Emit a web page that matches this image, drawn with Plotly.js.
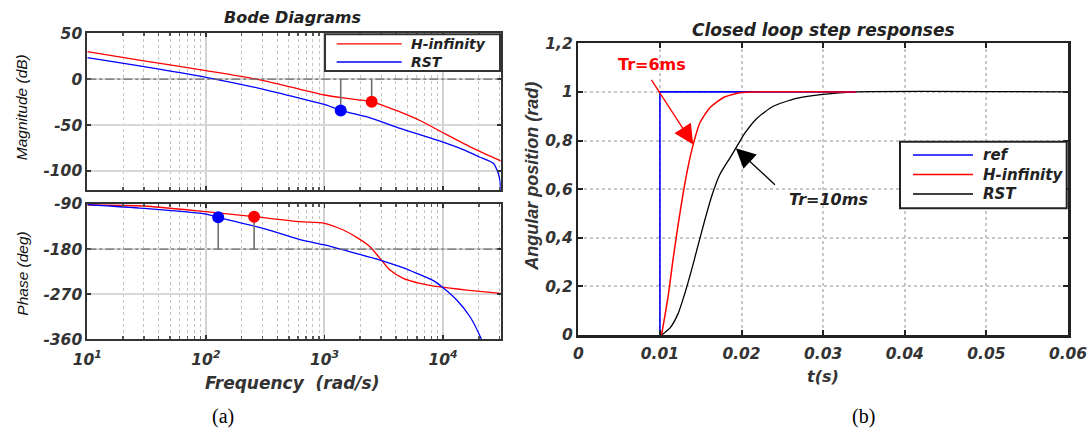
<!DOCTYPE html>
<html><head><meta charset="utf-8">
<script src="https://cdn.plot.ly/plotly-3.0.1.min.js"></script>
<style>html,body{margin:0;padding:0;background:#fff}</style>
</head><body><div id="chart" style="width:1091px;height:433px"></div>
<script>
// ---------- Bode magnitude (dB) ----------
const magFreqHinf = [10, 30, 100, 268, 621, 1000, 1442, 1928, 2500, 3566, 4335, 6383, 10000, 17990, 30700];
const magDbHinf   = [30, 20, 9.3, 0, -11, -17.2, -20.4, -22.5, -24.5, -31.5, -35.6, -45, -58.3, -75.3, -89];
const magFreqRst  = [10, 24.4, 100, 326, 621, 1000, 1371, 2500, 4335, 10000, 15000, 20460, 26500, 29200, 30300, 30700];
const magDbRst    = [23.4, 15.5, 2.1, -11.8, -20.8, -27.5, -34.0, -42.6, -53.5, -68.5, -77, -85, -91.6, -102.5, -112, -125];
// ---------- Bode phase (deg) ----------
const phFreqHinf = [10, 30, 100, 255, 621, 1000, 1442, 1928, 2421, 2938, 3566, 4617, 6383, 9410, 15800, 30700];
const phDegHinf  = [-92, -94, -105.4, -115.3, -125.3, -128.5, -141.9, -158.5, -175.2, -198.4, -221.7, -238.3, -248.3, -255.5, -261.7, -268.2];
const phFreqRst  = [10, 29.6, 100, 127, 326, 621, 1000, 1637, 2938, 4335, 5988, 8280, 10000, 13030, 16870, 21150, 23000];
const phDegRst   = [-91, -98.6, -110, -116.5, -140.5, -161, -171.8, -185.2, -201.8, -215.1, -228.3, -243, -257, -281.6, -315, -361, -385];
// ---------- stability margin markers (H-infinity, RST) ----------
const marginSeries    = ['H-infinity', 'RST'];
const gainMarginFreq  = [2500, 1371];
const gainMarginDb    = [-24.5, -34.0];
const phaseMarginFreq = [255, 127];
const phaseMarginDeg  = [-115.3, -116.5];
const magRefDb = 0, phaseRefDeg = -180;
// ---------- step responses (zero segment before t=0.01 lies on the axis) ----------
const refT  = [0.0100, 0.0100, 0.034];
const refY  = [0, 1, 1];
const hinfT = [0.0102, 0.0110, 0.0116, 0.0122, 0.01285, 0.01346, 0.01408, 0.0149, 0.01612, 0.01775, 0.0198, 0.0215, 0.034];
const hinfY = [0, 0.158, 0.309, 0.447, 0.584, 0.694, 0.784, 0.873, 0.935, 0.976, 0.997, 1, 1];
const rstT  = [0.0102, 0.01122, 0.01224, 0.01306, 0.01388, 0.01469, 0.01551, 0.01633, 0.01734, 0.01857, 0.0195, 0.0204, 0.02184, 0.02387, 0.02673, 0.030, 0.034, 0.06];
const rstY  = [0, 0.028, 0.089, 0.172, 0.268, 0.371, 0.474, 0.570, 0.660, 0.728, 0.780, 0.830, 0.890, 0.941, 0.973, 0.990, 1, 1];
// ---------- legends ----------
const bodeLegendNames = ['H-infinity', 'RST'];
const stepLegendNames = ['ref', 'H-infinity', 'RST'];
// ---------- tick labels ----------
const freqTickVals = [10, 100, 1000, 10000];
const freqTickText = ['10<sup>1</sup>', '10<sup>2</sup>', '10<sup>3</sup>', '10<sup>4</sup>'];
const magTickVals = [-100, -50, 0, 50];
const magTickText = ['-100', '-50', '0', '50'];
const phTickVals = [-360, -270, -180, -90];
const phTickText = ['-360', '-270', '-180', '-90'];
const tTickVals = [0, 0.01, 0.02, 0.03, 0.04, 0.05, 0.06];
const tTickText = ['0', '0.01', '0.02', '0.03', '0.04', '0.05', '0.06'];
const posTickVals = [0, 0.2, 0.4, 0.6, 0.8, 1, 1.2];
const posTickText = ['0', '0,2', '0,4', '0,6', '0,8', '1', '1,2'];
// annotation anchor points (data units)
const tr6Text = {t: 0.00898, y: 1.113}, tr6Tail = {t: 0.00853, y: 1.072}, tr6Tip = {t: 0.01408, y: 0.784};
const tr10Text = {t: 0.03069, y: 0.557}, tr10Tail = {t: 0.02452, y: 0.605}, tr10Tip = {t: 0.0193, y: 0.768};

const W = 1091, H = 433;
const px = x => x / W, py = y => 1 - y / H;
const RED = '#ff0000', BLUE = '#0000ff', BLACK = '#000000', STEM = '#707070';
const FAM = 'DejaVu Sans';
const tickFont = {family: FAM, size: 15.5, color: '#333', weight: 'bold', style: 'italic'};
const legFont = {family: FAM, size: 15, color: '#222', weight: 'bold', style: 'italic'};
const sp = {shape: 'spline', smoothing: 0.6};
const seriesColor = {'ref': BLUE, 'H-infinity': RED, 'RST': BLACK};
const bodeColor = {'H-infinity': RED, 'RST': BLUE};

const data = [];
data.push({x: magFreqHinf, y: magDbHinf, xaxis: 'x', yaxis: 'y', type: 'scatter', mode: 'lines', name: 'H-infinity', showlegend: false, line: Object.assign({color: RED, width: 1.3}, sp)});
data.push({x: magFreqRst, y: magDbRst, xaxis: 'x', yaxis: 'y', type: 'scatter', mode: 'lines', name: 'RST', showlegend: false, line: Object.assign({color: BLUE, width: 1.3}, sp)});
data.push({x: phFreqHinf, y: phDegHinf, xaxis: 'x2', yaxis: 'y2', type: 'scatter', mode: 'lines', name: 'H-infinity', showlegend: false, line: Object.assign({color: RED, width: 1.3}, sp)});
data.push({x: phFreqRst, y: phDegRst, xaxis: 'x2', yaxis: 'y2', type: 'scatter', mode: 'lines', name: 'RST', showlegend: false, line: Object.assign({color: BLUE, width: 1.3}, sp)});
marginSeries.forEach((s, i) => {
  data.push({x: [gainMarginFreq[i], gainMarginFreq[i]], y: [magRefDb, gainMarginDb[i]], xaxis: 'x', yaxis: 'y', mode: 'lines', showlegend: false, line: {color: STEM, width: 1.6}, hoverinfo: 'skip'});
  data.push({x: [gainMarginFreq[i]], y: [gainMarginDb[i]], xaxis: 'x', yaxis: 'y', mode: 'markers', showlegend: false, name: s, marker: {color: bodeColor[s], size: 12}});
  data.push({x: [phaseMarginFreq[i], phaseMarginFreq[i]], y: [phaseRefDeg, phaseMarginDeg[i]], xaxis: 'x2', yaxis: 'y2', mode: 'lines', showlegend: false, line: {color: STEM, width: 1.6}, hoverinfo: 'skip'});
  data.push({x: [phaseMarginFreq[i]], y: [phaseMarginDeg[i]], xaxis: 'x2', yaxis: 'y2', mode: 'markers', showlegend: false, name: s, marker: {color: bodeColor[s], size: 12}});
});
// step responses (RST first so H-infinity sits on top, as in the figure)
data.push({x: rstT, y: rstY, xaxis: 'x3', yaxis: 'y3', mode: 'lines', name: 'RST', showlegend: false, line: Object.assign({color: BLACK, width: 1.3}, sp)});
data.push({x: refT, y: refY, xaxis: 'x3', yaxis: 'y3', mode: 'lines', name: 'ref', showlegend: false, line: {color: BLUE, width: 1.6}});
data.push({x: hinfT, y: hinfY, xaxis: 'x3', yaxis: 'y3', mode: 'lines', name: 'H-infinity', showlegend: false, line: Object.assign({color: RED, width: 1.5}, sp)});

const bodeX = (dom, anchor, showLabels) => ({
  domain: dom, anchor: anchor, type: 'log', range: [1, 4.486],
  tickmode: 'array', tickvals: freqTickVals, ticktext: freqTickText, showticklabels: showLabels, ticklabelstandoff: 5,
  tickfont: tickFont, ticks: 'inside', ticklen: 4, tickwidth: 1.5, tickcolor: '#333',
  showline: true, linecolor: '#333', linewidth: 2, mirror: 'ticks',
  showgrid: true, gridcolor: '#d2d2d2', gridwidth: 2, zeroline: false,
  minor: {dtick: 'D1', ticks: 'inside', ticklen: 3, tickcolor: '#555', showgrid: true, gridcolor: '#c4c4c4', griddash: 'dot', gridwidth: 1}
});
const bodeY = (dom, anchor, range, tv, tt) => ({
  domain: dom, anchor: anchor, range: range, tickmode: 'array', tickvals: tv, ticktext: tt,
  tickfont: tickFont, ticks: 'inside', ticklen: 4, tickwidth: 1.5, tickcolor: '#333',
  showline: true, linecolor: '#333', linewidth: 2, mirror: 'ticks',
  showgrid: true, gridcolor: '#d8d8d8', gridwidth: 1.5, zeroline: false
});
const paperText = (text, x, y, font, angle, xanchor) => ({text: text, xref: 'paper', yref: 'paper', x: px(x), y: py(y), xanchor: xanchor || 'center', yanchor: 'middle', textangle: angle || 0, showarrow: false, align: 'left', font: font});

// legend boxes (pixel frames) and their entries
const shapes = [
  {type: 'line', xref: 'x domain', yref: 'y', x0: 0, x1: 1, y0: magRefDb, y1: magRefDb, line: {color: '#6a6a6a', width: 1.3, dash: 'dashdot'}},
  {type: 'line', xref: 'x2 domain', yref: 'y2', x0: 0, x1: 1, y0: phaseRefDeg, y1: phaseRefDeg, line: {color: '#6a6a6a', width: 1.3, dash: 'dashdot'}},
  {type: 'rect', xref: 'paper', yref: 'paper', x0: px(325), x1: px(500), y0: py(71), y1: py(34.3), fillcolor: '#fff', line: {color: '#333', width: 2}, layer: 'above'},
  {type: 'rect', xref: 'paper', yref: 'paper', x0: px(900), x1: px(1066.7), y0: py(208.3), y1: py(141.7), fillcolor: '#fff', line: {color: '#222', width: 2}, layer: 'above'}
];
const annotations = [];
// Bode legend: one two-line text block (line pitch = 1.3 x font size)
const bodeLegFont = Object.assign({}, legFont, {size: 14});
const bodeLegPitch = 14 * 1.3, bodeLegTop = 43.8;
bodeLegendNames.forEach((n, i) => {
  const yy = bodeLegTop + bodeLegPitch * i;
  shapes.push({type: 'line', xref: 'paper', yref: 'paper', x0: px(336.7), x1: px(401.7), y0: py(yy), y1: py(yy), line: {color: bodeColor[n], width: 1.3}, layer: 'above'});
});
annotations.push(paperText(bodeLegendNames.join('<br>'), 409.3, bodeLegTop + bodeLegPitch * (bodeLegendNames.length - 1) / 2, bodeLegFont, 0, 'left'));
stepLegendNames.forEach((n, i) => {
  const yy = 155 + 19.5 * i;
  shapes.push({type: 'line', xref: 'paper', yref: 'paper', x0: px(913), x1: px(973), y0: py(yy), y1: py(yy), line: {color: seriesColor[n], width: 1.4}, layer: 'above'});
  annotations.push(paperText(n, 980.7, yy, legFont, 0, 'left'));
});
annotations.push(
  paperText('Bode Diagrams', 292.5, 17, {family: FAM, size: 16, color: '#222', weight: 'bold', style: 'italic'}),
  paperText('Closed loop step responses', 823, 30, {family: FAM, size: 17, color: '#222', weight: 'bold', style: 'italic'}),
  paperText('Magnitude (dB)', 21.7, 107.5, {family: 'Liberation Sans', size: 15.5, color: '#111', style: 'italic'}, -90),
  paperText('Phase (deg)', 21.7, 274, {family: 'Liberation Sans', size: 15.5, color: '#111', style: 'italic'}, -90),
  paperText('Frequency&nbsp;&nbsp;(rad/s)', 292, 383, {family: FAM, size: 17, color: '#333', weight: 'bold', style: 'italic'}),
  paperText('Angular position (rad)', 531.7, 176, {family: 'Liberation Sans', size: 18, color: '#333', weight: 'bold', style: 'italic'}, -90),
  paperText('t(s)', 823.3, 376.7, {family: FAM, size: 16, color: '#333', weight: 'bold', style: 'italic'}),
  paperText('(a)', 223.3, 416.7, {family: 'Liberation Serif', size: 20, color: '#000'}),
  paperText('(b)', 863.3, 416.7, {family: 'Liberation Serif', size: 20, color: '#000'}),
  {text: 'Tr=6ms', xref: 'x3', yref: 'y3', x: tr6Text.t, y: tr6Text.y, xanchor: 'center', yanchor: 'middle', showarrow: false, font: {family: FAM, size: 16, color: RED, weight: 'bold'}},
  {text: ' ', xref: 'x3', yref: 'y3', x: tr6Tip.t, y: tr6Tip.y, axref: 'x3', ayref: 'y3', ax: tr6Tail.t, ay: tr6Tail.y, showarrow: true, arrowhead: 2, arrowsize: 3, arrowwidth: 1.3, arrowcolor: RED},
  {text: 'Tr=10ms', xref: 'x3', yref: 'y3', x: tr10Text.t, y: tr10Text.y, xanchor: 'center', yanchor: 'middle', showarrow: false, font: {family: FAM, size: 16, color: '#222', weight: 'bold', style: 'italic'}},
  {text: ' ', xref: 'x3', yref: 'y3', x: tr10Tip.t, y: tr10Tip.y, axref: 'x3', ayref: 'y3', ax: tr10Tail.t, ay: tr10Tail.y, showarrow: true, arrowhead: 2, arrowsize: 3, arrowwidth: 1.3, arrowcolor: BLACK}
);

const xDomL = [px(87.3), px(500.7)];
const layout = {
  width: W, height: H, margin: {l: 0, r: 0, t: 0, b: 0}, paper_bgcolor: '#fff', plot_bgcolor: '#fff',
  font: {family: FAM, color: '#333'}, showlegend: false,
  xaxis: bodeX(xDomL, 'y', false),
  yaxis: bodeY([py(190), py(33.3)], 'x', [-120.7, 50], magTickVals, magTickText),
  xaxis2: bodeX(xDomL, 'y2', true),
  yaxis2: bodeY([py(339.3), py(204)], 'x2', [-360, -90], phTickVals, phTickText),
  xaxis3: {domain: [px(578.3), px(1068)], anchor: 'y3', range: [0, 0.06], tickmode: 'array', tickvals: tTickVals, ticktext: tTickText,
    tickfont: tickFont, ticks: 'inside', ticklen: 5, tickwidth: 2, tickcolor: '#222', ticklabelstandoff: 3,
    showline: true, linecolor: '#222', linewidth: 2.5, mirror: 'ticks', showgrid: true, gridcolor: '#c8c8c8', gridwidth: 2, griddash: 'dot', zeroline: false},
  yaxis3: {domain: [py(335), py(43.3)], anchor: 'x3', range: [0, 1.2], tickmode: 'array', tickvals: posTickVals, ticktext: posTickText,
    tickfont: tickFont, ticks: 'inside', ticklen: 5, tickwidth: 2, tickcolor: '#222',
    showline: true, linecolor: '#222', linewidth: 2.5, mirror: 'ticks', showgrid: true, gridcolor: '#c8c8c8', gridwidth: 2, griddash: 'dot', zeroline: false},
  shapes: shapes,
  annotations: annotations
};
Plotly.newPlot('chart', data, layout, {displayModeBar: false, staticPlot: true});
</script></body></html>
